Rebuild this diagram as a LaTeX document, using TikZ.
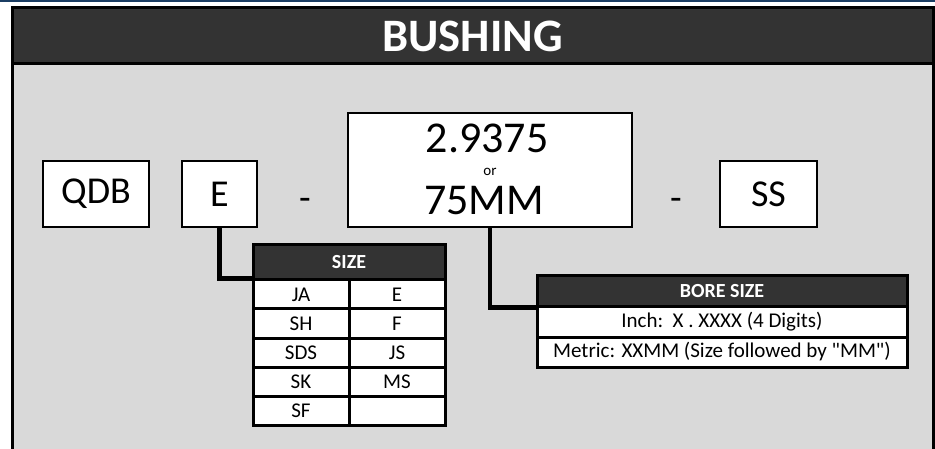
\documentclass[tikz,border=0pt]{standalone}
\usepackage{fontspec}
\setmainfont{Carlito}[Ligatures=TeXOff]
\definecolor{barra}{HTML}{333333}
\definecolor{fundo}{HTML}{D9D9D9}
\definecolor{azul}{HTML}{1B3D63}
\begin{document}
\begin{tikzpicture}[x=1pt, y=-1pt,
	part/.style={draw, line width=2.5pt, fill=white, inner sep=0pt, font=\fontsize{38}{44}\selectfont},
	head/.style={draw, line width=3pt, fill=barra, text=white, inner sep=0pt, font=\bfseries\fontsize{20}{24}\selectfont},
	cell/.style={draw, line width=3pt, fill=white, inner sep=0pt, font=\fontsize{21}{25}\selectfont},
	link/.style={line width=4.5pt}]

\useasboundingbox (0,0) rectangle (935,449);

% Moldura
\fill[azul] (0,0) rectangle (935,1.8);
\fill[fundo] (12,63.5) rectangle (933.5,449);
\fill[barra] (12,8) rectangle (933.5,63.5);
\draw[line width=3pt] (12,449) -- (12,8) -- (933.5,8) -- (933.5,449);
\draw[line width=3pt] (12,63.5) -- (933.5,63.5);

\node[text=white, font=\bfseries\fontsize{46.5}{54}\selectfont] (title) at (472.5,36) {BUSHING};

% Codigo
\node[part, minimum width=106, minimum height=66] (qdb) at (96,194) {QDB};
\node[part, minimum width=75, minimum height=66] (sizecode) at (219.5,194) {E};
\node[font=\fontsize{38}{44}\selectfont] (dashA) at (305,204) {-};
\node[part, minimum width=284, minimum height=114] (borecode) at (490,170) {};
	\node[font=\fontsize{44}{50}\selectfont, inner sep=1pt] (boreinch) at (487,138) {2.9375};
	\node[font=\fontsize{15}{18}\selectfont, inner sep=1pt] (boreor) at (490,172) {or};
	\node[font=\fontsize{44}{50}\selectfont, inner sep=1pt] (boremm) at (484,201) {75MM};
\node[font=\fontsize{38}{44}\selectfont] (dashB) at (676,204) {-};
\node[part, minimum width=97, minimum height=66] (ss) at (768.5,194) {SS};

% Tabela de tamanhos
\node[head, minimum width=192, minimum height=35] (sizehead) at (349,262.5) {SIZE};
\foreach \l/\r [count=\i] in {JA/E, SH/F, SDS/JS, SK/MS, SF/{}} {
	\node[cell, minimum width=96, minimum height=29] (szl\i) at (301,{265.5+29*\i}) {\l};
	\node[cell, minimum width=96, minimum height=29] (szr\i) at (397,{265.5+29*\i}) {\r};
}

% Tabela do furo
\node[head, minimum width=370, minimum height=31] (borehead) at (722,291.5) {BORE SIZE};
\node[cell, minimum width=370, minimum height=30] (rowinch) at (722,322) {Inch:\ \ X . XXXX (4 Digits)};
\node[cell, minimum width=370, minimum height=30] (rowmetric) at (722,352) {Metric: XXMM (Size followed by "MM")};

% Ligacoes
\draw[link] (sizecode.south) |- (szl1.north west);
\draw[link] (borecode.south) |- ([yshift=-2pt]rowinch.north west);

\end{tikzpicture}
\end{document}
